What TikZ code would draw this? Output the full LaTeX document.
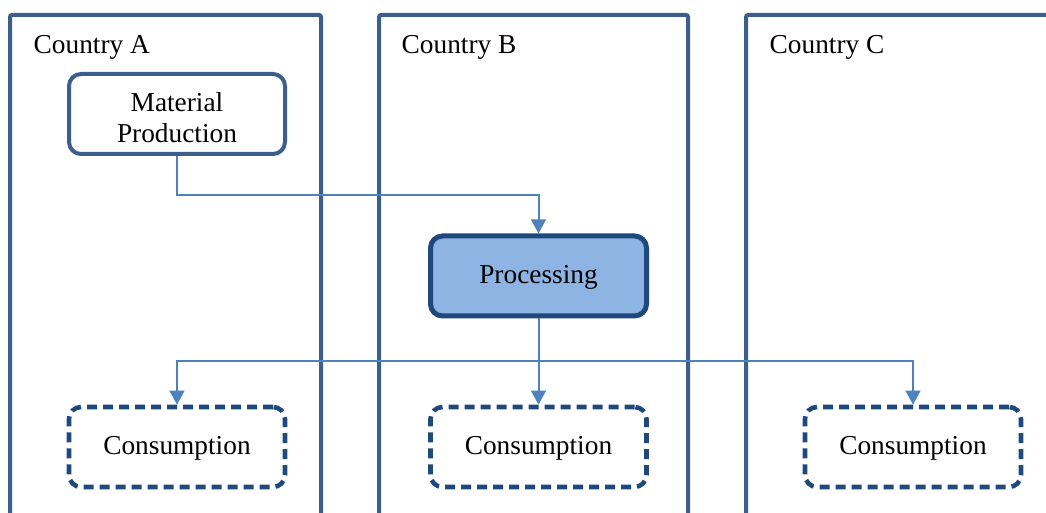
\documentclass[tikz,border=0pt]{standalone}
\usepackage{fontspec}
\setmainfont{Liberation Serif}
\usetikzlibrary{arrows.meta,positioning}
\definecolor{framecol}{RGB}{59,94,140}
\definecolor{procfill}{RGB}{142,180,227}
\definecolor{procline}{RGB}{31,73,125}
\definecolor{flowcol}{RGB}{79,129,189}
\begin{document}
\begin{tikzpicture}[x=0.75pt,y=-0.75pt,>={Triangle[length=10.5pt,width=11pt]},font=\fontsize{20.5}{23.5}\selectfont]
    \tikzstyle{country}=[draw=framecol,line width=3pt,rounded corners=1.5pt]
    \tikzstyle{stage}=[draw=framecol,line width=3pt,rounded corners=9pt,minimum width=162pt,minimum height=60pt,align=center,inner sep=2pt]
    \tikzstyle{hub}=[stage,draw=procline,line width=3.75pt,fill=procfill,text height=1.3em,text depth=0.2em]
    \tikzstyle{sink}=[stage,draw=procline,line width=3.4pt,dash pattern=on 7.5pt off 4.5pt,text height=1.3em,text depth=0.2em]
    \tikzstyle{flow}=[draw=flowcol,line width=1.5pt]
    \useasboundingbox (0,0) rectangle (1046,513);

    % country columns
    \draw[country] (10,530) -- (10,15) -- (321,15) -- (321,530);
    \draw[country] (379,530) -- (379,15) -- (688,15) -- (688,530);
    \draw[country] (746,530) -- (746,15) -- (1060,15);
    \node[anchor=west] (labA) at (29,47) {Country A};
    \node[anchor=west] (labB) at (397,47) {Country B};
    \node[anchor=west] (labC) at (765,47) {Country C};

    % stages
    \node[stage] (mat) at (177,114) {\rule{0pt}{0.95em}Material\\Production};
    \node[hub] (proc) at (538.5,276) {Processing};
    \node[sink] (consA) at (177,447) {Consumption};
    \node[sink] (consB) at (538.5,447) {Consumption};
    \node[sink] (consC) at (913,447) {Consumption};

    \coordinate (mid) at (0,195);
    \coordinate (split) at (0,361);

    \draw[flow,->] (mat.south) -- (mat.south |- mid) -| (proc.north);
    \draw[flow,->] (proc.south) -- (proc.south |- split) -| (consA.north);
    \draw[flow,->] (proc.south) -- (consB.north);
    \draw[flow,->] (proc.south |- split) -| (consC.north);
\end{tikzpicture}
\end{document}
